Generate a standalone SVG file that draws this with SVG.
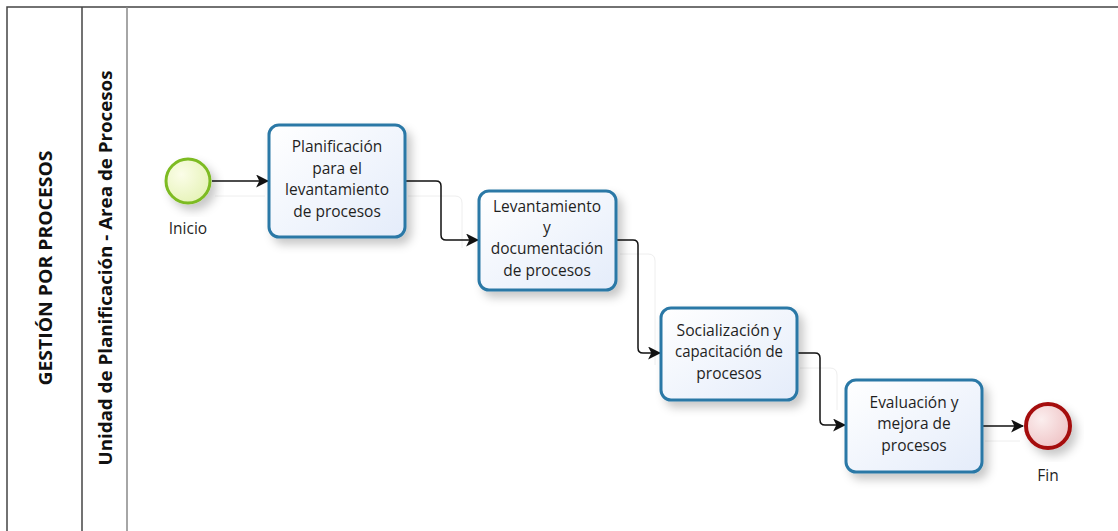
<svg xmlns="http://www.w3.org/2000/svg" width="1118" height="531" viewBox="0 0 1118 531">
<style>
.lbl{font-family:"Open Sans","DejaVu Sans",sans-serif;font-size:15.5px;fill:#1f1f1f;text-anchor:middle}
.lane{font-family:"Open Sans","DejaVu Sans",sans-serif;font-size:18px;font-weight:bold;fill:#111;text-anchor:middle}
.task{fill:url(#tg);stroke:#2a78a6;stroke-width:3;filter:url(#sh)}
.flow{fill:none;stroke:#111;stroke-width:1.5;marker-end:url(#ar)}
.guide{fill:none;stroke:#eeeeee;stroke-width:1}
.frame{stroke:#444;stroke-width:1.5;fill:none}
</style>
<defs>
<linearGradient id="tg" x1="0" y1="0" x2="1" y2="1">
<stop offset="0" stop-color="#ffffff"/><stop offset="1" stop-color="#e4ecfa"/>
</linearGradient>
<radialGradient id="sg" cx="0.35" cy="0.35" r="0.7">
<stop offset="0" stop-color="#fbfde8"/><stop offset="1" stop-color="#e6f3b8"/>
</radialGradient>
<radialGradient id="eg" cx="0.35" cy="0.35" r="0.7">
<stop offset="0" stop-color="#fbeeee"/><stop offset="1" stop-color="#efc4c6"/>
</radialGradient>
<filter id="sh" x="-20%" y="-20%" width="150%" height="150%">
<feDropShadow dx="5" dy="6" stdDeviation="5" flood-color="#000" flood-opacity="0.22"/>
</filter>
<marker id="ar" viewBox="0 0 12 12" refX="11" refY="6" markerWidth="13" markerHeight="13" markerUnits="userSpaceOnUse" orient="auto">
<path d="M0,0 L12,6 L0,12 L3,6 Z" fill="#111"/>
</marker>
</defs>
<rect width="1118" height="531" fill="#fff"/>
<g id="pool">
<path class="frame" d="M1118,7 H7 V531"/>
<line class="frame" x1="82" y1="7" x2="82" y2="531"/>
<line x1="127" y1="7" x2="127" y2="531" stroke="#888" stroke-width="1.5"/>
<text class="lane" transform="translate(52,268) rotate(-90)" textLength="235" lengthAdjust="spacingAndGlyphs">GESTIÓN POR PROCESOS</text>
<text class="lane" transform="translate(112,268) rotate(-90)" textLength="395" lengthAdjust="spacingAndGlyphs">Unidad de Planificación - Area de Procesos</text>
</g>
<g id="guides">
<path class="guide" d="M215,196 H265 M408,196 H455 Q462,196 462,203 V248 M620,254 H648 Q655,254 655,261 V365 M800,368 H830 Q837,368 837,375 V410 M985,441 H1020"/>
</g>
<g id="connectors">
<path class="flow" d="M212,181 H268"/>
<path class="flow" d="M405,181 H436 Q441,181 441,186 V235 Q441,240 446,240 H478"/>
<path class="flow" d="M616,240 H633 Q638,240 638,245 V348 Q638,353 643,353 H660"/>
<path class="flow" d="M797,353 H815 Q820,353 820,358 V420 Q820,425 825,425 H845"/>
<path class="flow" d="M982,426 H1023"/>
</g>
<g id="start">
<circle cx="188" cy="181" r="22" fill="url(#sg)" stroke="#7dbb22" stroke-width="3" filter="url(#sh)"/>
<text class="lbl" x="188" y="234">Inicio</text>
</g>
<g id="task1">
<rect class="task" x="269" y="125" width="136" height="112" rx="10"/>
<text class="lbl" x="337" y="152">Planificación</text>
<text class="lbl" x="337" y="174">para el</text>
<text class="lbl" x="337" y="195">levantamiento</text>
<text class="lbl" x="337" y="217">de procesos</text>
</g>
<g id="task2">
<rect class="task" x="479" y="191" width="137" height="99" rx="10"/>
<text class="lbl" x="547" y="212">Levantamiento</text>
<text class="lbl" x="547" y="233">y</text>
<text class="lbl" x="547" y="254">documentación</text>
<text class="lbl" x="547" y="276">de procesos</text>
</g>
<g id="task3">
<rect class="task" x="661" y="308" width="136" height="92" rx="10"/>
<text class="lbl" x="729" y="336" textLength="105" lengthAdjust="spacingAndGlyphs">Socialización y</text>
<text class="lbl" x="729" y="357" textLength="108" lengthAdjust="spacingAndGlyphs">capacitación de</text>
<text class="lbl" x="729" y="379">procesos</text>
</g>
<g id="task4">
<rect class="task" x="846" y="380" width="136" height="92" rx="10"/>
<text class="lbl" x="914" y="408">Evaluación y</text>
<text class="lbl" x="914" y="429">mejora de</text>
<text class="lbl" x="914" y="451">procesos</text>
</g>
<g id="end">
<circle cx="1048" cy="426" r="22" fill="url(#eg)" stroke="#a50f0f" stroke-width="4" filter="url(#sh)"/>
<text class="lbl" x="1048" y="481">Fin</text>
</g>
</svg>
